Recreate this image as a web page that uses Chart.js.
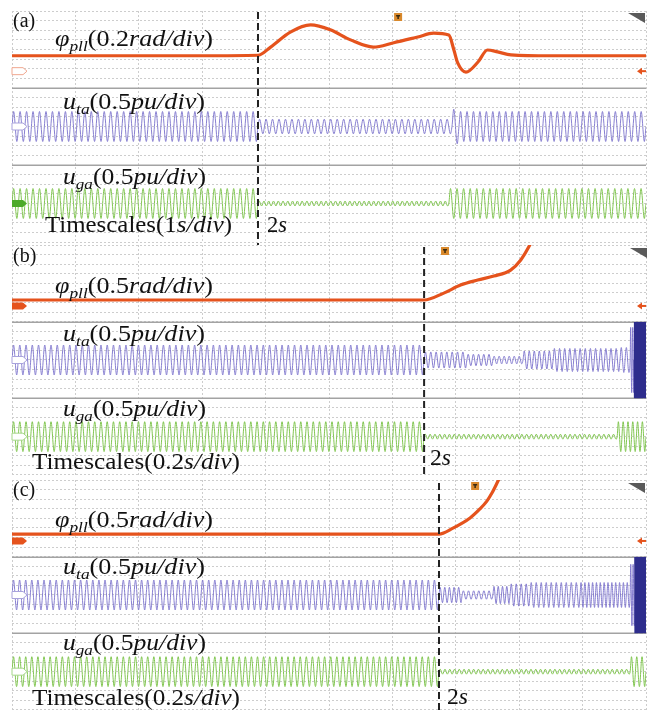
<!DOCTYPE html>
<html>
<head>
<meta charset="utf-8">
<script src="https://cdn.jsdelivr.net/npm/chart.js@4.4.1/dist/chart.umd.min.js"></script>
<style>
  html, body { margin: 0; padding: 0; background: #ffffff; }
  #wrap { position: relative; width: 652px; height: 711px; overflow: hidden; background: #ffffff; }
  #wrap canvas { position: absolute; left: 0; }
</style>
</head>
<body>
<div id="wrap">
  <canvas id="pa" width="652" height="245" style="top:0px"></canvas>
  <canvas id="pb" width="652" height="232" style="top:245px"></canvas>
  <canvas id="pc" width="652" height="234" style="top:477px"></canvas>
</div>
<script>
// ---------- scope settings ----------
const panelNames = ['(a)', '(b)', '(c)'];
const timeDiv = [1, 0.2, 0.2];          // s/div
const phiDiv = [0.2, 0.5, 0.5];         // rad/div
const uDiv = [0.5, 0.5, 0.5];           // pu/div
const eventTime = [3.88, 1.300, 1.347]; // instant marked "2s" (scope time, s)
const triggerTime = [6.09, 1.366, 1.461];
const phiRefLevel = [-0.45, -1.18, -1.18];

// ---------- (a) 1 s/div ----------
const phiA_t = [0, 1, 2, 3, 3.88, 4.08, 4.39, 4.71, 5.02, 5.34, 5.70, 6.02, 6.40, 6.65, 6.89, 6.97, 7.03, 7.16, 7.35, 7.50, 7.66, 7.87, 8.5, 9.2, 10];
const phiA_v = [-0.13, -0.13, -0.13, -0.13, -0.12, 0.05, 0.36, 0.51, 0.41, 0.20, 0.05, 0.14, 0.26, 0.34, 0.30, -0.01, -0.28, -0.47, -0.26, -0.01, -0.05, -0.11, -0.13, -0.13, -0.13];
// waveform segments: [start s, end s, visible cycles, peak pu]
const utaA_seg = [[0, 3.88, 38, 0.78], [3.88, 6.94, 30, 0.38], [6.94, 7.05, 1, 0.90], [7.05, 10, 29, 0.78]];
const ugaA_seg = [[0, 3.88, 38, 0.78], [3.88, 6.89, 40, 0.13], [6.89, 10, 30, 0.78]];

// ---------- (b) 0.2 s/div ----------
const phiB_t = [0, 0.5, 1.0, 1.300, 1.362, 1.415, 1.469, 1.520, 1.573, 1.605, 1.630, 1.652];
const phiB_v = [-0.87, -0.87, -0.87, -0.87, -0.51, -0.09, 0.17, 0.38, 0.69, 1.22, 1.89, 2.67];
const utaB_seg = [[0, 1.300, 66, 0.78], [1.300, 1.435, 8, 0.42], [1.435, 1.517, 5, 0.30], [1.517, 1.612, 6, 0.20], [1.612, 1.707, 6, 0.47], [1.707, 1.918, 13, 0.60], [1.918, 1.950, 2, 0.65], [1.950, 1.963, 2, 1.70]];
const utaB_burst = [[1.963, 2.0, 40, 2.0]];
const ugaB_seg = [[0, 1.300, 66, 0.78], [1.300, 1.909, 40, 0.13], [1.909, 2.0, 6, 0.78]];

// ---------- (c) 0.2 s/div ----------
const phiC_t = [0, 0.5, 1.0, 1.347, 1.391, 1.445, 1.476, 1.498, 1.514, 1.530, 1.546];
const phiC_v = [-0.82, -0.82, -0.82, -0.82, -0.51, 0.02, 0.49, 0.90, 1.32, 1.84, 2.40];
const utaC_seg = [[0, 1.347, 70, 0.78], [1.347, 1.420, 5, 0.40], [1.420, 1.517, 6, 0.22], [1.517, 1.571, 4, 0.45], [1.571, 1.634, 4, 0.58], [1.634, 1.792, 10, 0.65], [1.792, 1.950, 13, 0.65], [1.950, 1.965, 2, 1.60]];
const utaC_burst = [[1.965, 2.0, 40, 2.0]];
const ugaC_seg = [[0, 1.347, 70, 0.78], [1.347, 1.950, 40, 0.13], [1.950, 2.0, 3, 0.78]];

// ---------- helpers ----------
const COL = { phi: '#e5531d', uta: '#7b72cc', burst: '#2e2d8c', uga: '#82c652', grid: '#cdcdcd', sep: '#a3a3a3' };

function xy(ts, vs) { return ts.map((t, i) => ({ x: t, y: vs[i] })); }

// peaks of each oscillation segment, alternating above and below the trace level
function carrier(segs) {
  const pts = [];
  segs.forEach(([t0, t1, n, a]) => {
    const half = (t1 - t0) / (2 * n);
    pts.push({ x: t0, y: 0 });
    for (let k = 0; k < 2 * n; k++) pts.push({ x: t0 + (k + 0.5) * half, y: k % 2 ? -a : a });
  });
  pts.push({ x: segs[segs.length - 1][1], y: 0 });
  return pts;
}

const SERIF = '"Liberation Serif", "DejaVu Serif", serif';
function mathText(ctx, x, y, parts, size, width) {
  const fontOf = st => st === 'r' ? `${size}px ${SERIF}` : st === 'i' ? `italic ${size}px ${SERIF}` : `italic ${Math.round(size * 0.68)}px ${SERIF}`;
  let natural = 0;
  parts.forEach(([t, st]) => { ctx.font = fontOf(st); natural += ctx.measureText(t).width; });
  const sx = width ? width / natural : 1;
  ctx.save();
  ctx.translate(x, y);
  ctx.scale(sx, 1);
  ctx.fillStyle = '#111';
  ctx.textBaseline = 'alphabetic';
  let cx = 0;
  parts.forEach(([t, st]) => {
    ctx.font = fontOf(st);
    ctx.fillText(t, cx, st === 's' ? size * 0.24 : 0);
    cx += ctx.measureText(t).width;
  });
  ctx.restore();
}

function tag(ctx, x, y, color, filled) {
  ctx.beginPath();
  ctx.moveTo(x, y - 3.5); ctx.lineTo(x + 11, y - 3.5); ctx.lineTo(x + 15, y);
  ctx.lineTo(x + 11, y + 3.5); ctx.lineTo(x, y + 3.5); ctx.closePath();
  if (filled) { ctx.fillStyle = color; ctx.fill(); }
  else { ctx.fillStyle = '#ffffff'; ctx.fill(); ctx.strokeStyle = color; ctx.lineWidth = 1; ctx.stroke(); }
}

function decor(p) {
  return {
    id: 'decor' + p.idx,
    beforeDatasetsDraw(chart) {
      const { ctx, chartArea: a, scales } = chart;
      ctx.save();
      ctx.strokeStyle = COL.sep; ctx.lineWidth = 1.5;
      ['yT', 'yG'].forEach(id => {
        const y = Math.round(scales[id].top) + 0.25;
        ctx.beginPath(); ctx.moveTo(a.left, y); ctx.lineTo(a.right, y); ctx.stroke();
      });
      ctx.restore();
    },
    afterDatasetsDraw(chart) {
      const { ctx, chartArea: a, scales } = chart;
      const i = p.idx, off = p.top;
      ctx.save();
      // event marker
      const ex = scales.x.getPixelForValue(eventTime[i]);
      ctx.strokeStyle = '#222'; ctx.lineWidth = 2; ctx.setLineDash([7, 4]);
      ctx.beginPath(); ctx.moveTo(ex, a.top + p.dashTop); ctx.lineTo(ex, chart.height); ctx.stroke();
      ctx.setLineDash([]);
      // channel tags
      const yPhi = scales.yP.getPixelForValue(phiRefLevel[i]);
      tag(ctx, a.left, yPhi, i === 0 ? '#f0a890' : COL.phi, i !== 0);
      tag(ctx, a.left, scales.yT.getPixelForValue(0), '#a9a3dc', false);
      tag(ctx, a.left, scales.yG.getPixelForValue(0), i === 0 ? '#4caa2a' : '#a6d68a', i === 0);
      // offset arrow on the right
      ctx.fillStyle = COL.phi;
      ctx.beginPath(); ctx.moveTo(a.right - 9, yPhi); ctx.lineTo(a.right - 4, yPhi - 3.5); ctx.lineTo(a.right - 4, yPhi + 3.5); ctx.closePath(); ctx.fill();
      ctx.fillRect(a.right - 5, yPhi - 1, 5, 2);
      // trigger position
      const tx = scales.x.getPixelForValue(triggerTime[i]);
      const ty = p.trigY - off;
      ctx.fillStyle = '#d9892c'; ctx.fillRect(tx - 4, ty - 4, 8, 8);
      ctx.fillStyle = '#3a2a10'; ctx.fillRect(tx - 2, ty - 2, 4, 1.5); ctx.fillRect(tx - 0.75, ty - 2, 1.5, 4);
      // corner triangle
      ctx.fillStyle = '#5a5a5a';
      ctx.beginPath(); ctx.moveTo(p.triX - 17, p.triY - off); ctx.lineTo(p.triX, p.triY - off); ctx.lineTo(p.triX, p.triY - off + 10); ctx.closePath(); ctx.fill();
      // text
      p.texts.forEach(tx2 => mathText(ctx, tx2.x, tx2.y - off, tx2.parts, tx2.size, tx2.w));
      ctx.restore();
    }
  };
}

function axisY(weight, div) {
  return {
    type: 'linear', position: 'left', stack: 'scope', stackWeight: 1, weight: weight,
    min: -4 * div, max: 4 * div,
    ticks: { display: false, stepSize: div },
    grid: { color: COL.grid, lineWidth: 1, drawTicks: false },
    border: { display: false, dash: [2, 2] },
    afterFit(s) { s.width = 0; }
  };
}

function makePanel(p) {
  const i = p.idx;
  const datasets = [
    { data: p.phi, yAxisID: 'yP', borderColor: COL.phi, borderWidth: 3.2, cubicInterpolationMode: 'monotone', order: 1 },
    { data: carrier(p.uta), yAxisID: 'yT', borderColor: COL.uta, borderWidth: 0.9, cubicInterpolationMode: 'monotone', order: 3 },
    { data: carrier(p.uga), yAxisID: 'yG', borderColor: COL.uga, borderWidth: 1, cubicInterpolationMode: 'monotone', order: 3 }
  ];
  if (p.burst) datasets.push({ data: carrier(p.burst), yAxisID: 'yT', borderColor: COL.burst, borderWidth: 1.5, tension: 0, order: 2 });
  datasets.forEach(d => { d.pointRadius = 0; d.fill = false; });
  return new Chart(document.getElementById(p.canvas), {
    type: 'line',
    data: { datasets },
    plugins: [decor(p)],
    options: {
      responsive: false, animation: false, events: [],
      layout: { padding: p.pad },
      plugins: { legend: { display: false }, tooltip: { enabled: false } },
      scales: {
        x: {
          type: 'linear', position: 'bottom', min: 0, max: 10 * timeDiv[i],
          ticks: { display: false, stepSize: timeDiv[i] },
          grid: { color: COL.grid, lineWidth: 1, drawTicks: false },
          border: { display: false, dash: [2, 2] },
          afterFit(s) { s.height = 0; }
        },
        yP: axisY(3, phiDiv[i]),
        yT: axisY(2, uDiv[i]),
        yG: axisY(1, uDiv[i])
      }
    }
  });
}

function phiLabel(div) { return [['φ', 'i'], ['pll', 's'], ['(' + div, 'r'], ['rad/div', 'i'], [')', 'r']]; }
function uLabel(sub, div) { return [['u', 'i'], [sub, 's'], ['(' + div, 'r'], ['pu/div', 'i'], [')', 'r']]; }
function tsLabel(div) { return [['Timescales', 'r'], ['(' + div, 'r'], ['s/div', 'i'], [')', 'r']]; }
const twoS = [['2', 'r'], ['s', 'i']];
const FS = 22.5;

makePanel({
  idx: 0, canvas: 'pa', top: 0, pad: { top: 11, bottom: 3, left: 12, right: 6 },
  phi: xy(phiA_t, phiA_v), uta: utaA_seg, uga: ugaA_seg,
  dashTop: 1, trigY: 17, triX: 645, triY: 13,
  texts: [
    { x: 13, y: 27, size: 20, parts: [[panelNames[0], 'r']] },
    { x: 55, y: 46, size: FS, w: 158, parts: phiLabel(phiDiv[0]) },
    { x: 63, y: 109, size: FS, w: 142, parts: uLabel('ta', uDiv[0]) },
    { x: 63, y: 184, size: FS, w: 143, parts: uLabel('ga', uDiv[0]) },
    { x: 45, y: 232, size: FS, w: 187, parts: tsLabel(timeDiv[0]) },
    { x: 267, y: 232, size: FS, w: 20, parts: twoS }
  ]
});

makePanel({
  idx: 1, canvas: 'pb', top: 245, pad: { top: 0, bottom: 2, left: 12, right: 6 },
  phi: xy(phiB_t, phiB_v), uta: utaB_seg, uga: ugaB_seg, burst: utaB_burst,
  dashTop: 2, trigY: 251, triX: 647, triY: 248,
  texts: [
    { x: 13, y: 262, size: 20, parts: [[panelNames[1], 'r']] },
    { x: 55, y: 293, size: FS, w: 158, parts: phiLabel(phiDiv[1]) },
    { x: 63, y: 341, size: FS, w: 142, parts: uLabel('ta', uDiv[1]) },
    { x: 63, y: 416, size: FS, w: 143, parts: uLabel('ga', uDiv[1]) },
    { x: 32, y: 469, size: FS, w: 208, parts: tsLabel(timeDiv[1]) },
    { x: 430, y: 465, size: FS, w: 21, parts: twoS }
  ]
});

makePanel({
  idx: 2, canvas: 'pc', top: 477, pad: { top: 3, bottom: 1, left: 12, right: 6 },
  phi: xy(phiC_t, phiC_v), uta: utaC_seg, uga: ugaC_seg, burst: utaC_burst,
  dashTop: 3, trigY: 486, triX: 645, triY: 483,
  texts: [
    { x: 13, y: 496, size: 20, parts: [[panelNames[2], 'r']] },
    { x: 55, y: 527, size: FS, w: 158, parts: phiLabel(phiDiv[2]) },
    { x: 63, y: 574, size: FS, w: 142, parts: uLabel('ta', uDiv[2]) },
    { x: 63, y: 650, size: FS, w: 143, parts: uLabel('ga', uDiv[2]) },
    { x: 32, y: 705, size: FS, w: 208, parts: tsLabel(timeDiv[2]) },
    { x: 447, y: 704, size: FS, w: 21, parts: twoS }
  ]
});
</script>
</body>
</html>
